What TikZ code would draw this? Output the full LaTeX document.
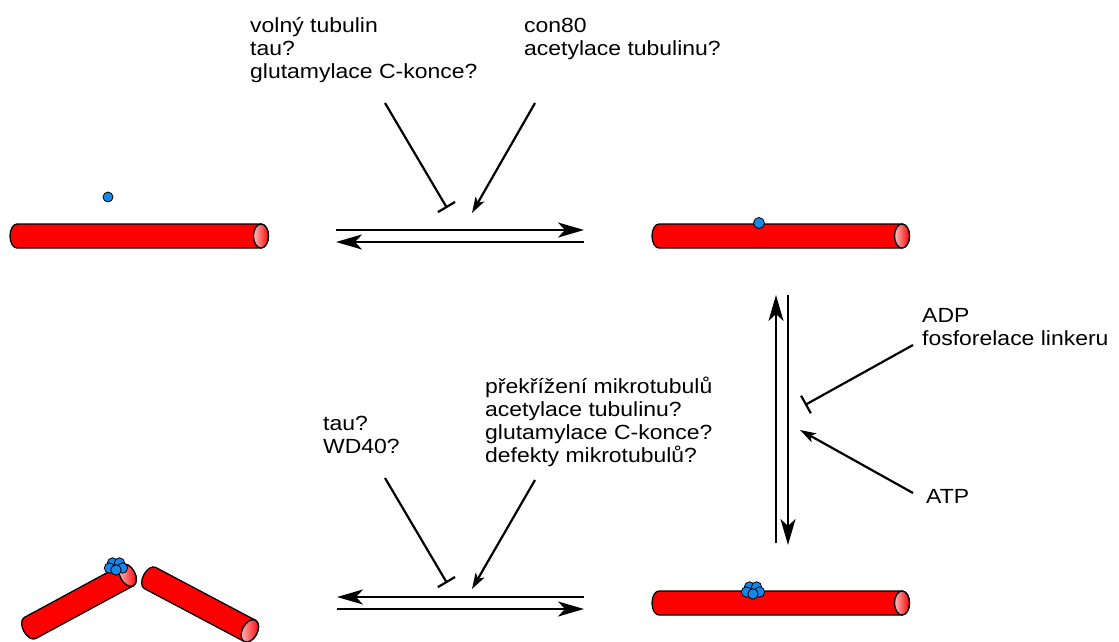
\documentclass[tikz,border=0pt]{standalone}
\usepackage{fontspec}
\setmainfont{Liberation Sans}[FakeStretch=1.12]
\usetikzlibrary{arrows.meta}
\definecolor{tubered}{RGB}{255,0,0}
\definecolor{tubepink}{RGB}{250,190,190}
\definecolor{dotblue}{RGB}{20,135,235}

\tikzset{
  % base anchor of a multi-line label sits on its last line
  lbl/.style={font=\fontsize{20.5}{23}\selectfont, align=left, inner sep=0pt, anchor=base west},
  flow/.style={line width=2.2pt, -{Stealth[length=26pt,width=15pt,inset=7pt]}},
  act/.style={line width=2.2pt, -{Stealth[length=16pt,width=10pt,inset=4pt]}},
  inh/.style={line width=2.2pt, -{Bar[width=20pt,line width=2.2pt]}},
  dot/.style={fill=dotblue, draw=black, line width=0.8pt},
  % a microtubule: rounded start at (0,0), shaded end cap at (#1,0)
  pics/tube/.style={code={
    \filldraw[fill=tubered, draw=black, line width=1.3pt]
      (0,-12) -- (#1,-12) arc[start angle=-90, end angle=90, x radius=7.5, y radius=12]
      -- (0,12) arc[start angle=90, end angle=270, x radius=7, y radius=12] -- cycle;
    \shade[left color=tubepink, right color=tubered, draw=black, line width=1.3pt]
      (#1,0) ellipse[x radius=7.5, y radius=12];
  }},
  % a cluster of bound motor heads
  pics/cluster/.style={code={
    \foreach \p in {(-3.5,-4),(3.5,-4),(-6.5,1),(6.5,1),(0,3)}
      \filldraw[dot] \p circle[radius=5.2];
  }},
}

\begin{document}
\begin{tikzpicture}[x=1pt, y=-1pt]
\useasboundingbox (0,0) rectangle (1119,641);

% microtubules
\pic (mtA) at (17,236) {tube=244};
\pic (mtB) at (659,236) {tube=243};
\pic (mtC) at (659,603) {tube=243};
\pic[rotate=28.4] (mtD) at (30,628) {tube=111};
\pic[rotate=-27.9] (mtE) at (150,578) {tube=113};

% bound and free particles
\filldraw[dot] (108,197) circle[radius=5];
\filldraw[dot] (759,223) circle[radius=5.5];
\pic (clD) at (116,567) {cluster};
\pic (clC) at (753,591) {cluster};

% labels
\node[lbl] (t1) at (250,78) {volný tubulin\\tau?\\glutamylace C-konce?};
\node[lbl] (t2) at (524,55) {con80\\acetylace tubulinu?};
\node[lbl] (t3) at (922,345) {ADP\\fosforelace linkeru};
\node[lbl] (t4) at (926,503) {ATP};
\node[lbl] (t5) at (323,453) {tau?\\WD40?};
\node[lbl] (t6) at (485,462) {překřížení mikrotubulů\\acetylace tubulinu?\\glutamylace C-konce?\\defekty mikrotubulů?};

% reaction arrow end points
\coordinate (aL1) at (336,230); \coordinate (aR1) at (584,230);
\coordinate (bL1) at (336,242); \coordinate (bR1) at (584,242);
\coordinate (aL2) at (337,597); \coordinate (aR2) at (584,597);
\coordinate (bL2) at (337,609); \coordinate (bR2) at (584,609);
\coordinate (vT1) at (776,295); \coordinate (vB1) at (776,543);
\coordinate (vT2) at (788,295); \coordinate (vB2) at (788,545);

% regulator end points
\coordinate (i1s) at (385,103); \coordinate (i1e) at (447,208);
\coordinate (p1s) at (535,103); \coordinate (p1e) at (472,213);
\coordinate (i2s) at (385,478); \coordinate (i2e) at (447,583);
\coordinate (p2s) at (535,480); \coordinate (p2e) at (472,589);
\coordinate (i3s) at (913,345); \coordinate (i3e) at (805,405);
\coordinate (p3s) at (913,493); \coordinate (p3e) at (800,430);

% reversible reactions
\draw[flow] (aL1) -- (aR1);
\draw[flow] (bR1) -- (bL1);
\draw[flow] (aR2) -- (aL2);
\draw[flow] (bL2) -- (bR2);
\draw[flow] (vB1) -- (vT1);
\draw[flow] (vT2) -- (vB2);

% regulators
\draw[inh] (i1s) -- (i1e);
\draw[act] (p1s) -- (p1e);
\draw[inh] (i2s) -- (i2e);
\draw[act] (p2s) -- (p2e);
\draw[inh] (i3s) -- (i3e);
\draw[act] (p3s) -- (p3e);
\end{tikzpicture}
\end{document}
